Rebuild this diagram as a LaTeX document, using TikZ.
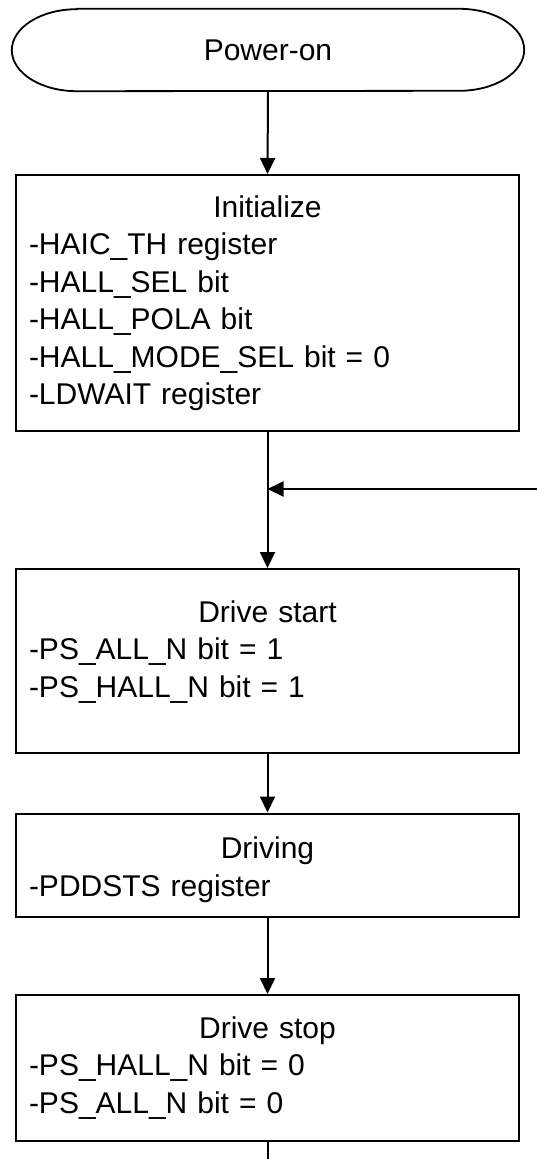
\documentclass[tikz,border=0pt]{standalone}
\usepackage{fontspec}
\setmainfont{Liberation Sans}
\usepackage{tikz}
\usetikzlibrary{arrows.meta,calc}
\newcommand{\boxhead}[1]{\hskip 0pt plus 1fill #1\hskip 0pt plus 1fill\null}
\tikzset{
  termbox/.style={minimum width=512pt, minimum height=82pt, inner sep=0pt},
  termline/.style={line width=1.8pt},
  stepbox/.style={draw, line width=2pt, minimum width=503pt, text width=477pt,
    align=left, inner xsep=13pt, inner ysep=0pt},
  flow/.style={-{Triangle[length=16pt, width=15pt]}, line width=2pt},
  trunk/.style={line width=2pt},
}

\begin{document}
\begin{tikzpicture}[x=1pt, y=1pt, font=\fontsize{30}{37.5}\selectfont]
\useasboundingbox (0,0) rectangle (537,-1159);
% start terminal
\node[termbox] (start) at (268,-50) {Power-on};
\draw[termline] ([xshift=65pt]start.north west) -- ([xshift=-65pt]start.north east)
  arc[start angle=90, end angle=-90, x radius=65pt, y radius=41pt]
  -- ([xshift=65pt]start.south west)
  arc[start angle=270, end angle=90, x radius=65pt, y radius=41pt] -- cycle;
% process steps
\node[stepbox, minimum height=256pt] (init) at (267.5,-303) {\boxhead{Initialize}\\
  -HAIC\_TH register\\-HALL\_SEL bit\\-HALL\_POLA bit\\
  -HALL\_MODE\_SEL bit = 0\\-LDWAIT register};
\node[stepbox, minimum height=184pt, text depth=99pt] (dstart) at (267.5,-661)
  {\boxhead{Drive start}\\-PS\_ALL\_N bit = 1\\-PS\_HALL\_N bit = 1};
\node[stepbox, minimum height=103pt, text height=31pt] (driving) at (267.5,-865)
  {\boxhead{Driving}\\-PDDSTS register};
\node[stepbox, minimum height=146pt] (dstop) at (267.5,-1068)
  {\boxhead{Drive stop}\\-PS\_HALL\_N bit = 0\\-PS\_ALL\_N bit = 0};
% loop-back entry and exit
\coordinate (join) at (267.5,-489);
\coordinate (loopin) at (537,-489);
\coordinate (exit) at (267.5,-1159);
\draw[flow] (start.south) -- (init.north);
\draw[trunk] (init.south) -- (join);
\draw[flow] (join) -- (dstart.north);
\draw[flow] (loopin) -- (join);
\draw[flow] (dstart.south) -- (driving.north);
\draw[flow] (driving.south) -- (dstop.north);
\draw[trunk] (dstop.south) -- (exit);
\end{tikzpicture}
\end{document}
